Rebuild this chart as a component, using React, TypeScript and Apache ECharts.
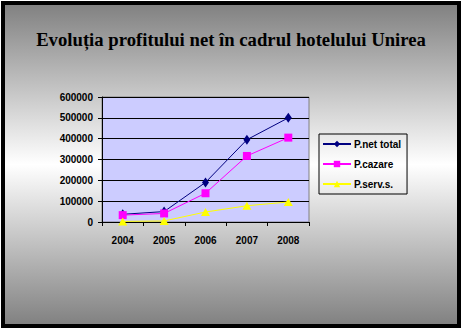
import React, { useEffect, useRef } from "react";
import * as echarts from "echarts";

const categories = ["2004", "2005", "2006", "2007", "2008"];
const netTotal = [37000, 50000, 190000, 395000, 500000];
const cazare = [33000, 41000, 138000, 317000, 405000];
const servS = [3000, 5000, 48000, 78000, 96000];
const seriesNames = ["P.net total", "P.cazare", "P.serv.s."];
const titleText = "Evoluția profitului net în cadrul hotelului Unirea";

export default function App() {
  const ref = useRef<HTMLDivElement>(null);
  useEffect(() => {
    if (!ref.current) return;
    const chart = echarts.init(ref.current, null, { renderer: "svg" });
    const labelFont = { fontFamily: "Liberation Sans, Arial, sans-serif", fontWeight: "bold" as const, fontSize: 10, color: "#000" };
    chart.setOption({
      animation: false,
      backgroundColor: "#ffffff",
      graphic: [
        {
          type: "rect",
          z: -10,
          silent: true,
          shape: { x: 3, y: 3, width: 456, height: 323 },
          style: {
            fill: new echarts.graphic.LinearGradient(0, 0, 0, 1, [
              { offset: 0, color: "#808080" },
              { offset: 0.5, color: "#ffffff" },
              { offset: 1, color: "#808080" },
            ]),
            stroke: "#000000",
            lineWidth: 4,
          },
        },
        {
          type: "text",
          x: 231,
          y: 39.5,
          style: {
            text: titleText,
            fill: "#000",
            font: "bold 18.7px 'Liberation Serif', 'Times New Roman', serif",
            textAlign: "center",
            textVerticalAlign: "middle",
          },
        },
      ],
      grid: {
        left: 102,
        top: 97,
        right: 153,
        bottom: 108,
        show: true,
        backgroundColor: "#CCCCFF",
        borderColor: "#808080",
        borderWidth: 1,
      },
      legend: {
        orient: "vertical",
        left: 319,
        top: 134,
        data: seriesNames,
        itemWidth: 28,
        itemHeight: 8,
        itemGap: 10,
        padding: [5, 6, 5, 3],
        borderColor: "#000",
        borderWidth: 1,
        backgroundColor: "transparent",
        textStyle: { ...labelFont, padding: [0, 0, 0, -2] },
      },
      xAxis: {
        type: "category",
        data: categories,
        boundaryGap: true,
        axisLine: { lineStyle: { color: "#000", width: 1 } },
        axisTick: { show: true, length: 4, lineStyle: { color: "#000" } },
        axisLabel: { ...labelFont, margin: 13 },
        splitLine: { show: false },
      },
      yAxis: {
        type: "value",
        min: 0,
        max: 600000,
        interval: 100000,
        axisLine: { show: true, lineStyle: { color: "#000", width: 1 } },
        axisTick: { show: true, length: 4, lineStyle: { color: "#000" } },
        axisLabel: { ...labelFont, margin: 9, formatter: (v: number) => String(v) },
        splitLine: { show: true, lineStyle: { color: "#000", width: 1 } },
      },
      series: [
        {
          name: seriesNames[0],
          type: "line",
          data: netTotal,
          symbol: "diamond",
          symbolSize: [7, 10],
          lineStyle: { color: "#000080", width: 1 },
          itemStyle: { color: "#000080" },
        },
        {
          name: seriesNames[1],
          type: "line",
          data: cazare,
          symbol: "rect",
          symbolSize: 8,
          lineStyle: { color: "#FF00FF", width: 1 },
          itemStyle: { color: "#FF00FF" },
        },
        {
          name: seriesNames[2],
          type: "line",
          data: servS,
          symbol: "triangle",
          symbolSize: [9, 8],
          lineStyle: { color: "#FFFF00", width: 1 },
          itemStyle: { color: "#FFFF00" },
        },
      ],
    });
    return () => chart.dispose();
  }, []);
  return (
    <div
      ref={ref}
      style={{ position: "absolute", left: 0, top: 0, width: 462, height: 330 }}
    />
  );
}
